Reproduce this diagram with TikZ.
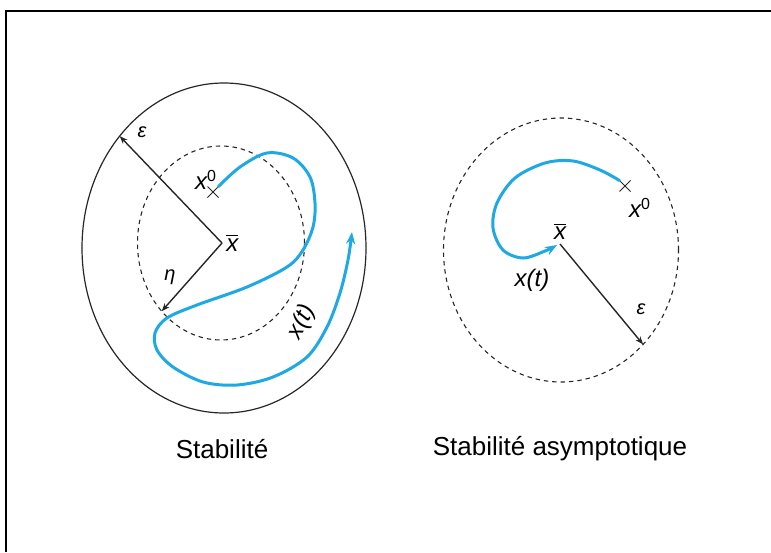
\documentclass[tikz,border=0pt]{standalone}
\usepackage{fontspec}
\setmainfont{Liberation Sans}
\usetikzlibrary{positioning, arrows.meta, shapes.geometric, shapes.misc}
\definecolor{trajblue}{RGB}{30,168,228}

\begin{document}
\begin{tikzpicture}[
	x=0.5pt, y=-0.5pt,
	>=Stealth,
	% Style for the regions (ellipses)
	bound/.style={
		draw=black!85,
		ellipse,
		line width=0.6pt,
		inner sep=0pt,
		outer sep=0pt
	},
	ball/.style={
		bound,
		dash pattern=on 2.2pt off 2pt,
		line width=0.55pt
	},
	% Style for the radii
	radius/.style={
		-{Stealth[length=4pt, width=3pt]},
		line width=0.7pt,
		draw=black!85
	},
	% Style for the trajectories
	traj/.style={
		-{Stealth[length=6pt, width=4.5pt]},
		line width=1.5pt,
		draw=trajblue,
		line cap=round
	},
	initpt/.style={
		cross out,
		draw=black!85,
		line width=0.5pt,
		minimum size=5pt,
		inner sep=0pt
	},
	lbl/.style={font=\fontsize{12}{14}\selectfont\itshape, inner sep=1pt},
	greek/.style={font=\fontsize{10}{12}\selectfont\itshape, inner sep=1pt},
	caption/.style={font=\fontsize{13}{15}\selectfont, inner sep=0pt}
	]
	
	\useasboundingbox (0,0) rectangle (771,552);
	
	% --- FRAME ---
	\draw[line width=1pt] (6,552) -- (6,11) -- (771,11);
	
	% --- LEFT: STABILITE ---
	\node[bound, minimum width=142pt, minimum height=165pt] (outerL) at (224,248) {};
	\node[ball, minimum width=83.5pt, minimum height=97pt] (innerL) at (221,243) {};
	\coordinate (xbarL) at (222,243);
	\node[initpt] (x0L) at (213,192) {};
	
	% radii eps and eta
	\draw[radius] (xbarL) -- (outerL.133);
	\draw[radius] (xbarL) -- (innerL.229);
	
	% trajectory x(t)
	\draw[traj] plot[smooth, tension=0.55] coordinates {(x0L.north east) (240,167) (267,153) (293,158) (310,177) (315,203) (313,227) (303,250) (287,267) (247,287) (197,305) (167,318) (155,333) (157,350) (173,367) (203,382) (237,385) (273,377) (307,357) (327,327) (340,293) (348,260) (352,232)};
	
	% labels
	\node[greek] (epsL) at (142,132) {ε};
	\node[greek] (etaL) at (170,277) {η};
	\node[lbl] (x0Llbl) at (206,180) {x\textsuperscript{\upshape 0}};
	\node[lbl, right=1pt of xbarL] (xbarLlbl) {$\overline{\mbox{\itshape x}}$};
	\node[lbl, rotate=63] (xtL) at (302,322) {x(t)};
	\node[caption] (capL) at (222,449) {Stabilité};
	
	% --- RIGHT: STABILITE ASYMPTOTIQUE ---
	\node[ball, minimum width=117.5pt, minimum height=132pt] (ballR) at (561,250) {};
	\coordinate (xbarR) at (560,244);
	\node[initpt] (x0R) at (625,186) {};
	
	% radius eps
	\draw[radius] (xbarR) -- (ballR.311);
	
	% trajectory x(t)
	\draw[traj] plot[smooth, tension=0.55] coordinates {(x0R.north west) (600,170) (573,161) (545,163) (515,178) (497,203) (493,228) (503,250) (523,258) (545,251) (557,245)};
	
	% labels
	\node[lbl, above=1pt of xbarR] (xbarRlbl) {$\overline{\mbox{\itshape x}}$};
	\node[lbl] (x0Rlbl) at (640,208) {x\textsuperscript{\upshape 0}};
	\node[lbl] (xtR) at (532,280) {x(t)};
	\node[greek] (epsR) at (641,309) {ε};
	\node[caption] (capR) at (560,449) {Stabilité asymptotique};
	
\end{tikzpicture}
\end{document}
